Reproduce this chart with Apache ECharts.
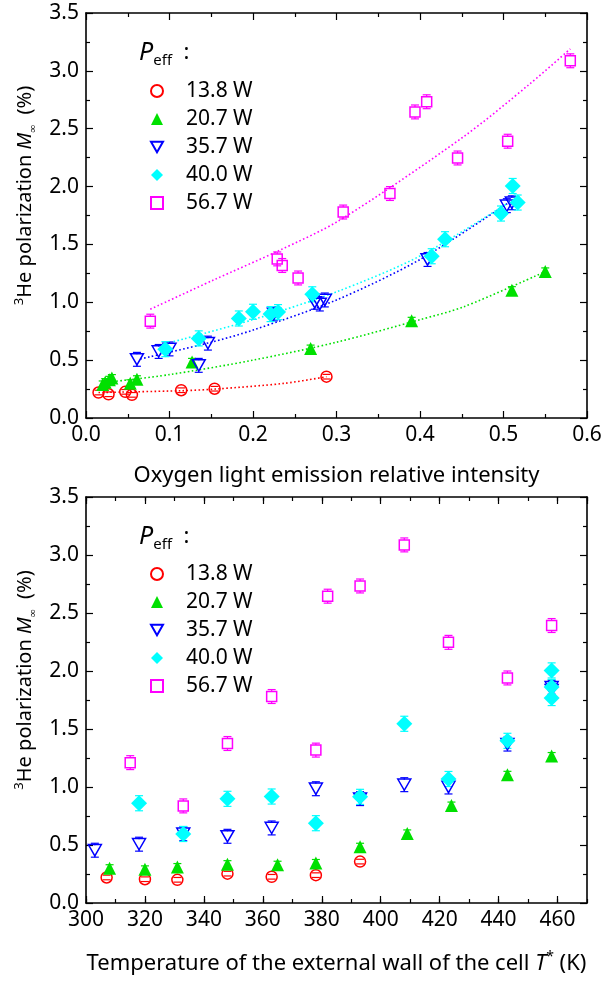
<!DOCTYPE html>
<html>
<head>
<meta charset="utf-8">
<script src="https://cdn.jsdelivr.net/npm/echarts@6/dist/echarts.min.js"></script>
<style>
html, body { margin: 0; padding: 0; background: #fff; }
#chart { width: 605px; height: 983px; }
</style>
</head>
<body>
<div id="chart"></div>
<script>
// series names (effective power)
var powers = ['13.8 W', '20.7 W', '35.7 W', '40.0 W', '56.7 W'];

// 13.8 W
var tRed = [307, 320, 331, 348, 363, 378, 393];
var iRed = [0.015, 0.027, 0.055, 0.154, 0.047, 0.114, 0.288];
var mRed = [0.22, 0.205, 0.20, 0.253, 0.226, 0.24, 0.357];
// 20.7 W
var tGreen = [308, 320, 331, 348, 365, 378, 393, 409, 424, 443, 458];
var iGreen = [0.053, 0.02, 0.023, 0.061, 0.028, 0.031, 0.127, 0.269, 0.39, 0.51, 0.55];
var mGreen = [0.30, 0.29, 0.31, 0.335, 0.33, 0.345, 0.485, 0.60, 0.84, 1.105, 1.267];
// 35.7 W
var tBlue = [303, 318, 333, 348, 363, 378, 393, 408, 423, 443, 458, 458];
var iBlue = [0.135, 0.061, 0.10, 0.087, 0.146, 0.28, 0.225, 0.286, 0.274, 0.409, 0.504, 0.51];
var mBlue = [0.455, 0.507, 0.597, 0.575, 0.647, 0.985, 0.90, 1.02, 1.0, 1.37, 1.835, 1.86];
// 40.0 W
var tCyan = [318, 333, 348, 363, 378, 393, 408, 423, 443, 458, 458, 458];
var iCyan = [0.183, 0.095, 0.221, 0.2, 0.135, 0.23, 0.43, 0.271, 0.414, 0.511, 0.517, 0.497];
var mCyan = [0.86, 0.595, 0.898, 0.918, 0.688, 0.915, 1.545, 1.069, 1.398, 2.005, 1.862, 1.767];
// 56.7 W
var tMag = [315, 333, 348, 363, 378, 382, 393, 408, 423, 443, 458];
var iMag = [0.254, 0.077, 0.229, 0.308, 0.235, 0.394, 0.408, 0.58, 0.445, 0.364, 0.505];
var mMag = [1.21, 0.837, 1.375, 1.78, 1.318, 2.645, 2.733, 3.087, 2.247, 1.94, 2.392];

// error bar half-heights (%)
var errRed = 0.02, errGreen = 0.03, errBlue = 0.06, errCyan = 0.065, errMag = 0.06;

// dotted fit curves
var fitRedX = [0.015, 0.115, 0.155, 0.238, 0.288];
var fitRedY = [0.22, 0.236, 0.25, 0.30, 0.357];
var fitGreenX = [0.027, 0.1, 0.2, 0.3, 0.4, 0.452, 0.55];
var fitGreenY = [0.31, 0.375, 0.50, 0.655, 0.85, 0.96, 1.265];
var fitBlueX = [0.065, 0.15, 0.2, 0.3, 0.4, 0.508];
var fitBlueY = [0.51, 0.655, 0.76, 1.02, 1.37, 1.87];
var fitCyanX = [0.105, 0.2, 0.3, 0.4, 0.51];
var fitCyanY = [0.66, 0.85, 1.09, 1.40, 1.88];
var fitMagX = [0.077, 0.152, 0.232, 0.304, 0.452, 0.532, 0.58];
var fitMagY = [0.94, 1.19, 1.45, 1.71, 2.43, 2.89, 3.19];

var colors = ['#ff0000', '#00e000', '#0000ff', '#00ffff', '#ff00ff'];
var FONT = 'Noto Sans';
var downTri = 'path://M0,0L10,0L5,8.7Z';

function zip(a, b) {
    return a.map(function (v, i) { return [v, b[i]]; });
}

function axis(grid, min, max, interval, pos, opt) {
    opt = opt || {};
    return {
        gridIndex: grid,
        type: 'value',
        position: pos,
        min: min,
        max: max,
        interval: interval,
        name: opt.name || '',
        nameLocation: 'middle',
        nameGap: opt.nameGap || 0,
        nameRotate: opt.nameRotate || 0,
        nameTextStyle: opt.nameTextStyle,
        axisLine: { show: opt.line !== false, onZero: false, lineStyle: { color: '#000', width: 1.6 } },
        axisTick: { show: true, inside: true, length: opt.tickLen || 7, lineStyle: { color: '#000', width: 1.2 } },
        minorTick: { show: !!opt.minor, splitNumber: 2, length: 4, lineStyle: { color: '#000', width: 1.2 } },
        splitLine: { show: false },
        axisLabel: {
            show: !!opt.labels,
            color: '#000',
            fontSize: 21,
            fontFamily: FONT,
            margin: 7,
            showMaxLabel: opt.showMax !== false,
            formatter: opt.fmt
        }
    };
}

var yName = '{sup|3}{n|He polarization }{it|M}{sub|∞}{n|  (%)}';
var yNameStyle = {
    color: '#000',
    fontFamily: FONT,
    padding: [0, 0, 0, 40],
    rich: {
        n: { fontSize: 20, lineHeight: 26, fontFamily: FONT },
        it: { fontSize: 20, lineHeight: 26, fontStyle: 'italic', fontFamily: FONT },
        sup: { fontSize: 13, lineHeight: 12, verticalAlign: 'top', fontFamily: FONT },
        sub: { fontSize: 11, lineHeight: 10, verticalAlign: 'bottom', fontFamily: FONT }
    }
};
var xNameStyle = {
    color: '#000',
    fontFamily: FONT,
    rich: {
        n: { fontSize: 22, lineHeight: 28, fontFamily: FONT },
        it: { fontSize: 22, lineHeight: 28, fontStyle: 'italic', fontFamily: FONT },
        sup: { fontSize: 14, lineHeight: 12, verticalAlign: 'top', fontFamily: FONT }
    }
};

function fmt1(v) { return v.toFixed(1); }

var xAxes = [
    axis(0, 0, 0.6, 0.1, 'bottom', { labels: true, minor: true, fmt: fmt1,
        name: '{n|Oxygen light emission relative intensity}', nameGap: 44, nameTextStyle: xNameStyle }),
    axis(0, 0, 0.6, 0.1, 'top', { minor: true }),
    axis(1, 300, 470, 20, 'bottom', { labels: true, showMax: false,
        name: '{n|Temperature of the external wall of the cell }{it|T}{sup|*}{n| (K)}', nameGap: 47, nameTextStyle: xNameStyle }),
    axis(1, 300, 470, 10, 'bottom', { line: false, tickLen: 4 }),
    axis(1, 300, 470, 20, 'top', {}),
    axis(1, 300, 470, 10, 'top', { line: false, tickLen: 4 })
];
var yAxes = [
    axis(0, 0, 3.5, 0.5, 'left', { labels: true, minor: true, fmt: fmt1,
        name: yName, nameRotate: 90, nameGap: 46, nameTextStyle: yNameStyle }),
    axis(0, 0, 3.5, 0.5, 'right', { minor: true }),
    axis(1, 0, 3.5, 0.5, 'left', { labels: true, minor: true, fmt: fmt1,
        name: yName, nameRotate: 90, nameGap: 46, nameTextStyle: yNameStyle }),
    axis(1, 0, 3.5, 0.5, 'right', { minor: true })
];

var marks = [
    { symbol: 'circle', size: 11, filled: false },
    { symbol: 'triangle', size: 13, filled: true },
    { symbol: downTri, size: 13, filled: false },
    { symbol: 'diamond', size: 16, filled: true },
    { symbol: 'rect', size: 10, filled: false }
];

function scatter(k, data, xi, yi) {
    var m = marks[k];
    return {
        name: powers[k],
        type: 'scatter',
        xAxisIndex: xi,
        yAxisIndex: yi,
        symbol: m.symbol,
        symbolSize: m.size,
        symbolKeepAspect: true,
        itemStyle: m.filled
            ? { color: colors[k], opacity: 1 }
            : { color: 'rgba(255,255,255,0)', borderColor: colors[k], borderWidth: 1.5, opacity: 1 },
        z: 3,
        data: data
    };
}

function errBars(k, data, err, gap, xi, yi) {
    var col = colors[k];
    return {
        type: 'custom',
        xAxisIndex: xi,
        yAxisIndex: yi,
        silent: true,
        z: 2,
        data: data,
        renderItem: function (params, api) {
            var x = api.value(0), y = api.value(1);
            var c = api.coord([x, y]);
            var hi = api.coord([x, y + err]);
            var lo = api.coord([x, y - err]);
            var st = { stroke: col, lineWidth: 1.2 };
            var kids = [
                { type: 'line', shape: { x1: c[0] - 4, y1: hi[1], x2: c[0] + 4, y2: hi[1] }, style: st },
                { type: 'line', shape: { x1: c[0] - 4, y1: lo[1], x2: c[0] + 4, y2: lo[1] }, style: st }
            ];
            if (c[1] - gap > hi[1]) {
                kids.push({ type: 'line', shape: { x1: c[0], y1: hi[1], x2: c[0], y2: c[1] - gap }, style: st });
            }
            if (c[1] + gap < lo[1]) {
                kids.push({ type: 'line', shape: { x1: c[0], y1: lo[1], x2: c[0], y2: c[1] + gap }, style: st });
            }
            return { type: 'group', children: kids };
        }
    };
}

function fit(k, xs, ys) {
    return {
        type: 'line',
        xAxisIndex: 0,
        yAxisIndex: 0,
        data: zip(xs, ys),
        smooth: 0.3,
        symbol: 'none',
        silent: true,
        z: 1,
        lineStyle: { color: colors[k], width: 1.6, type: [1.6, 2.4] }
    };
}

var topSets = [zip(iRed, mRed), zip(iGreen, mGreen), zip(iBlue, mBlue), zip(iCyan, mCyan), zip(iMag, mMag)];
var botSets = [zip(tRed, mRed), zip(tGreen, mGreen), zip(tBlue, mBlue), zip(tCyan, mCyan), zip(tMag, mMag)];
var errs = [errRed, errGreen, errBlue, errCyan, errMag];

var series = [
    fit(0, fitRedX, fitRedY),
    fit(1, fitGreenX, fitGreenY),
    fit(2, fitBlueX, fitBlueY),
    fit(3, fitCyanX, fitCyanY),
    fit(4, fitMagX, fitMagY)
];
for (var k = 0; k < 5; k++) {
    series.push(errBars(k, topSets[k], errs[k], 5, 0, 0));
    series.push(scatter(k, topSets[k], 0, 0));
    series.push(errBars(k, botSets[k], errs[k], 5, 2, 2));
    series.push(scatter(k, botSets[k], 2, 2));
}

function legend(top) {
    return {
        data: powers,
        orient: 'vertical',
        left: 145,
        top: top,
        itemWidth: 12,
        itemHeight: 12,
        itemGap: 0,
        selectedMode: false,
        textStyle: { fontSize: 21, color: '#000', fontFamily: FONT, lineHeight: 28, padding: [0, 0, 0, 18] }
    };
}

function peff(top) {
    return {
        left: 134,
        top: top,
        text: '{p|P}{s|eff}{c|  :}',
        textStyle: {
            fontWeight: 'normal',
            rich: {
                p: { fontSize: 25, fontStyle: 'italic', fontWeight: 'normal', fontFamily: FONT, color: '#000', lineHeight: 30 },
                s: { fontSize: 15, fontWeight: 'normal', fontFamily: FONT, color: '#000', lineHeight: 14, verticalAlign: 'bottom' },
                c: { fontSize: 22, fontWeight: 'normal', fontFamily: FONT, color: '#000', lineHeight: 30 }
            }
        }
    };
}

var option = {
    animation: false,
    backgroundColor: '#fff',
    textStyle: { fontFamily: FONT },
    title: [peff(33), peff(517)],
    legend: [legend(72), legend(555)],
    grid: [
        { left: 86, right: 18, top: 13, height: 405 },
        { left: 86, right: 18, top: 497, height: 406 }
    ],
    xAxis: xAxes,
    yAxis: yAxes,
    series: series
};

var myChart = echarts.init(document.getElementById('chart'));
myChart.setOption(option);
</script>
</body>
</html>
